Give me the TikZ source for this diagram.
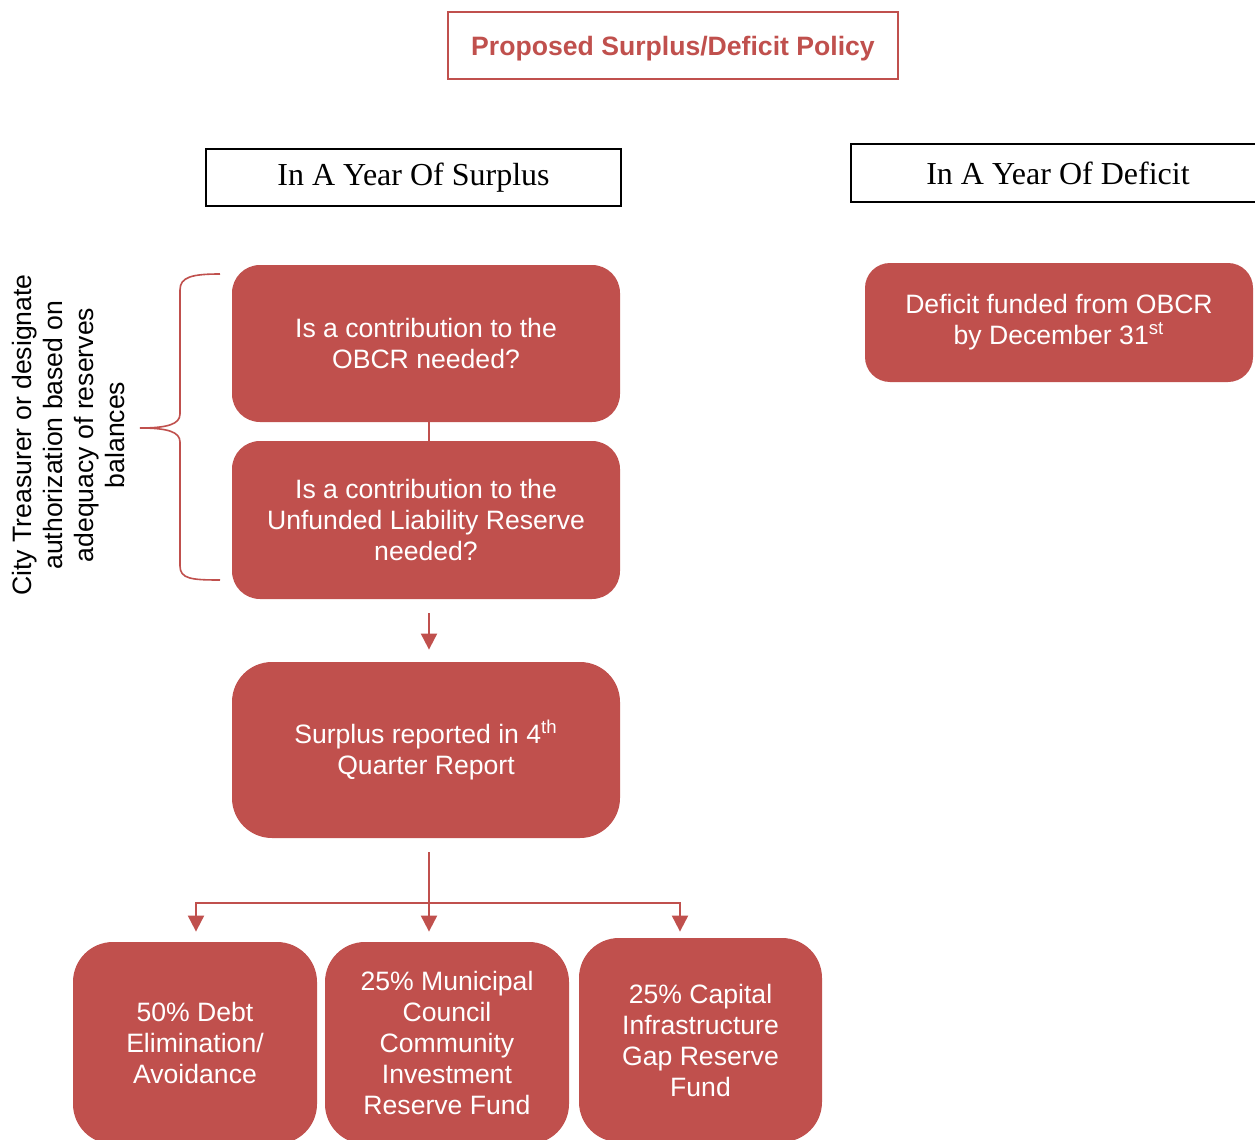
\documentclass[tikz,border=0pt]{standalone}
\usepackage{fontspec}
\setmainfont{Liberation Sans}
\newfontfamily\serifhead{Liberation Serif}
\usetikzlibrary{arrows.meta}
\definecolor{accred}{HTML}{C0504D}
\tikzset{
  rbox/.style={fill=accred, draw=none, text=white, align=center, font=\fontsize{13.3}{15.5}\selectfont, inner sep=0pt},
  hdr/.style={draw=black, line width=1pt, font=\serifhead\fontsize{16}{18}\selectfont, inner sep=0pt},
  arr/.style={draw=accred, line width=1pt, -{Triangle[width=8pt,length=8pt]}},
  conn/.style={draw=accred, line width=0.8pt}
}
\begin{document}
\begin{tikzpicture}[x=0.5pt,y=-0.5pt]
\clip (0,0) rectangle (1255,1140);
\fill[white] (0,0) rectangle (1255,1140);

% title
\node[draw=accred, line width=0.8pt, text=accred, font=\bfseries\fontsize{13.3}{16}\selectfont,
      text height=12.5pt, text depth=2.5pt,
      minimum width=225pt, minimum height=33.5pt, inner sep=0pt] (title) at (673,45.5) {Proposed Surplus/Deficit Policy};

% headers
\node[hdr, minimum width=207.5pt, minimum height=28.5pt] (hs) at (413.5,177.5) {\raisebox{-1pt}{In A Year Of Surplus}};
\node[hdr, minimum width=207pt, minimum height=29pt] (hd) at (1058,173) {\raisebox{-0.5pt}{In A Year Of Deficit}};

% surplus column
\node[rbox, minimum width=194pt, minimum height=78.5pt, rounded corners=14pt] (b1) at (426,343.5)
  {Is a contribution to the\\OBCR needed?};
\node[rbox, minimum width=194pt, minimum height=79pt, rounded corners=14pt] (b2) at (426,520)
  {Is a contribution to the\\Unfunded Liability Reserve\\needed?};
\node[rbox, minimum width=194pt, minimum height=88pt, rounded corners=20pt] (b3) at (426,750)
  {Surplus reported in 4\textsuperscript{th}\\Quarter Report};

% bottom boxes
\node[rbox, minimum width=122pt, minimum height=101pt, rounded corners=20pt] (bA) at (195,1043)
  {50\% Debt\\Elimination/\\Avoidance};
\node[rbox, minimum width=122pt, minimum height=101pt, rounded corners=20pt] (bB) at (447,1043)
  {25\% Municipal\\Council\\Community\\Investment\\Reserve Fund};
\node[rbox, minimum width=121.5pt, minimum height=102pt, rounded corners=20pt] (bC) at (700.5,1040)
  {25\% Capital\\Infrastructure\\Gap Reserve\\Fund};

% deficit box
\node[rbox, minimum width=194pt, minimum height=59.5pt, rounded corners=12.5pt] (bd) at (1059,322.5)
  {Deficit funded from OBCR\\by December 31\textsuperscript{st}};

% side label
\node[rotate=90, align=center, font=\fontsize{13.3}{15.5}\selectfont, inner sep=0pt] (side) at (68,435)
  {City Treasurer or designate\\authorization based on\\adequacy of reserves\\balances};

% brace
\coordinate (brtip) at (140,428);
\draw[conn] (220,274) .. controls (192,274) and (180,277) .. (180,290)
  -- (180,414) .. controls (180,424) and (168,428) .. (brtip)
  .. controls (168,428) and (180,432) .. (180,442)
  -- (180,566) .. controls (180,579) and (192,580) .. (220,580);

% connectors
\draw[conn] ([xshift=1.5pt]b1.south) -- ([xshift=1.5pt]b2.north);
\draw[arr, shorten <=7pt, shorten >=6pt] ([xshift=1.5pt]b2.south) -- ([xshift=1.5pt]b3.north);

\coordinate (split) at (429,903);
\draw[arr, shorten <=7pt, shorten >=5pt] ([xshift=1.5pt]b3.south) -- (split |- bB.north);
\draw[arr, shorten >=5pt] (split) -| ([xshift=0.5pt]bA.north);
\draw[arr, shorten >=3pt] (split) -| ([xshift=-10.25pt]bC.north);
\end{tikzpicture}
\end{document}
